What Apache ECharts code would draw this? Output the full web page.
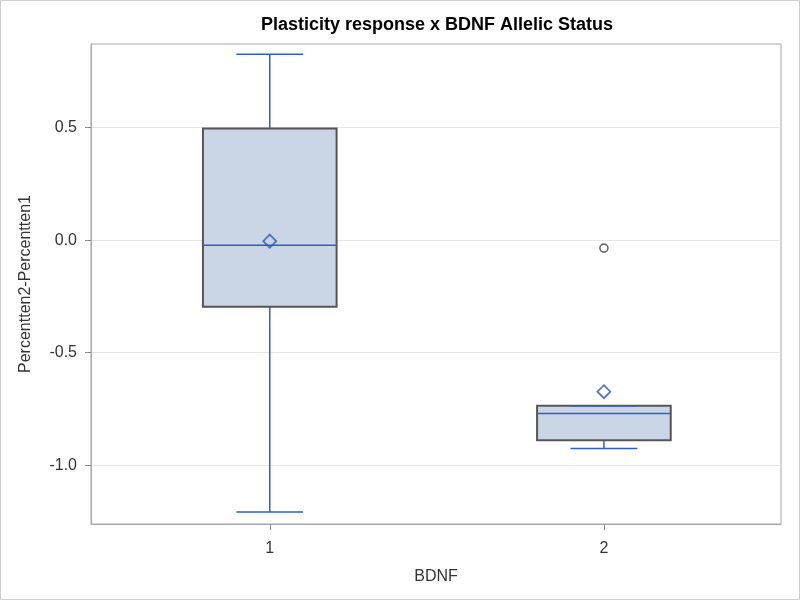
<!DOCTYPE html>
<html>
<head>
<meta charset="utf-8">
<script src="https://cdn.jsdelivr.net/npm/echarts@6/dist/echarts.min.js"></script>
<style>
  html, body { margin: 0; padding: 0; background: #fff; }
  #box-view { width: 800px; height: 600px; box-sizing: border-box; border: 1px solid #cfcfcf; }
</style>
</head>
<body>
<div id="box-view"></div>
<script>
// values
const categories = [1, 2];
const whiskerLow = [-1.208, -0.925];
const q1 = [-0.296, -0.889];
const medians = [-0.022, -0.770];
const q3 = [0.496, -0.735];
const whiskerHigh = [0.827, -0.735];
const means = [-0.004, -0.673];
const outliers = [[2, -0.035]];
const yTicks = [-1.0, -0.5, 0.0, 0.5];

const lineBlue = '#2f5fc4';
const boxFill = '#cad5e5';
const boxEdge = '#555555';
const font = 'Liberation Sans, Arial, sans-serif';

let boxData = categories.map(function (c, i) {
  return [c, whiskerLow[i], q1[i], medians[i], q3[i], whiskerHigh[i]];
});
let meanData = categories.map(function (c, i) { return [c, means[i]]; });

function renderBox(params, api) {
  let x = api.value(0);
  let half = 0.2, cap = 0.1;
  let pLow = api.coord([x, api.value(1)]);
  let pQ1 = api.coord([x, api.value(2)]);
  let pMed = api.coord([x, api.value(3)]);
  let pQ3 = api.coord([x, api.value(4)]);
  let pHigh = api.coord([x, api.value(5)]);
  let w = api.size([half, 0])[0];
  let cw = api.size([cap, 0])[0];
  let blue = { stroke: lineBlue, lineWidth: 1.5 };
  return {
    type: 'group',
    children: [
      { type: 'line', shape: { x1: pLow[0], y1: pLow[1], x2: pQ1[0], y2: pQ1[1] }, style: blue },
      { type: 'line', shape: { x1: pQ3[0], y1: pQ3[1], x2: pHigh[0], y2: pHigh[1] }, style: blue },
      { type: 'line', shape: { x1: pLow[0] - cw, y1: pLow[1], x2: pLow[0] + cw, y2: pLow[1] }, style: blue },
      {
        type: 'rect',
        shape: { x: pQ3[0] - w, y: pQ3[1], width: 2 * w, height: pQ1[1] - pQ3[1] },
        style: { fill: boxFill, stroke: boxEdge, lineWidth: 2 }
      },
      { type: 'line', shape: { x1: pMed[0] - w, y1: pMed[1], x2: pMed[0] + w, y2: pMed[1] }, style: blue },
      { type: 'line', shape: { x1: pHigh[0] - cw, y1: pHigh[1], x2: pHigh[0] + cw, y2: pHigh[1] }, style: blue }
    ]
  };
}

let option = {
  animation: false,
  textStyle: { fontFamily: font },
  title: {
    text: 'Plasticity response x BDNF Allelic Status',
    left: 431,
    textAlign: 'center',
    top: 10,
    textStyle: { fontSize: 18, fontWeight: 'bold', color: '#000', fontFamily: font }
  },
  grid: {
    left: 90, right: 18, top: 43, bottom: 75,
    show: true, borderColor: '#a8a8a8', borderWidth: 1
  },
  xAxis: {
    type: 'value',
    min: 0.465,
    max: 2.53,
    name: 'BDNF',
    nameLocation: 'middle',
    nameGap: 45,
    nameTextStyle: { fontSize: 16, color: '#333' },
    axisLine: { show: true, onZero: false, lineStyle: { color: '#a8a8a8' } },
    axisTick: { show: true, customValues: categories, length: 6, lineStyle: { color: '#888' } },
    axisLabel: { customValues: categories, fontSize: 16, color: '#333', margin: 17 },
    splitLine: { show: false }
  },
  yAxis: {
    type: 'value',
    min: -1.261,
    max: 0.872,
    name: 'Percentten2-Percentten1',
    nameLocation: 'middle',
    nameGap: 57,
    nameTextStyle: { fontSize: 16, color: '#333' },
    axisLine: { show: true, onZero: false, lineStyle: { color: '#a8a8a8' } },
    axisTick: { show: true, customValues: yTicks, length: 6, lineStyle: { color: '#888', width: 1 } },
    axisLabel: {
      customValues: yTicks, fontSize: 16, color: '#333', margin: 14,
      formatter: function (v) { return v.toFixed(1); }
    },
    splitLine: { show: false }
  },
  series: [
    {
      name: 'box',
      type: 'custom',
      renderItem: renderBox,
      encode: { x: 0, y: [1, 2, 3, 4, 5] },
      data: boxData,
      z: 2,
      markLine: {
        silent: true,
        symbol: 'none',
        label: { show: false },
        lineStyle: { color: '#e6e6e6', type: 'solid', width: 1 },
        data: yTicks.map(function (v) { return { yAxis: v }; }),
        z: 0
      }
    },
    {
      name: 'mean',
      type: 'scatter',
      symbol: 'diamond',
      symbolSize: 13,
      itemStyle: { color: 'rgba(0,0,0,0)', borderColor: '#2a55b8', borderWidth: 1.8 },
      data: meanData,
      z: 3
    },
    {
      name: 'outlier',
      type: 'scatter',
      symbol: 'circle',
      symbolSize: 8,
      itemStyle: { color: '#fff', borderColor: '#444', borderWidth: 1.6 },
      data: outliers,
      z: 3
    }
  ]
};

let chart = echarts.init(document.getElementById('box-view'));
chart.setOption(option);
</script>
</body>
</html>
